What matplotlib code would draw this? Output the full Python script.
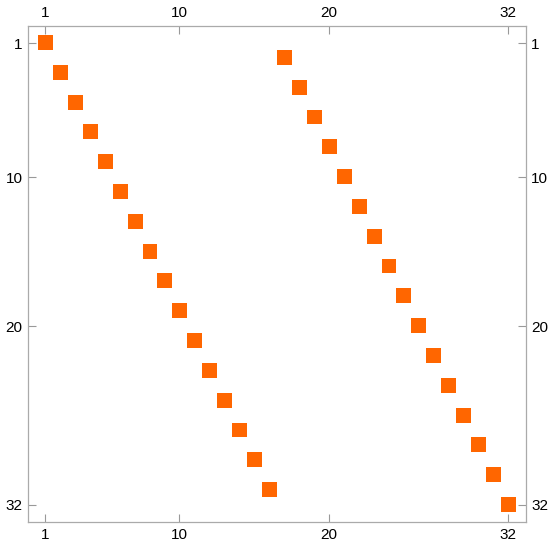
import numpy as np
import matplotlib.pyplot as plt

# nonzero entries of the 32x32 matrix: (column, row), 1-based
cols = [1, 2, 3, 4, 5, 6, 7, 8, 9, 10, 11, 12, 13, 14, 15, 16,
        17, 18, 19, 20, 21, 22, 23, 24, 25, 26, 27, 28, 29, 30, 31, 32]
rows = [1, 3, 5, 7, 9, 11, 13, 15, 17, 19, 21, 23, 25, 27, 29, 31,
        2, 4, 6, 8, 10, 12, 14, 16, 18, 20, 22, 24, 26, 28, 30, 32]
n = 32
tick_vals = [1, 10, 20, 32]

mat = np.zeros((n, n))
for c, r in zip(cols, rows):
    mat[r - 1, c - 1] = 1
mat = np.ma.masked_equal(mat, 0)

plt.rcParams['font.family'] = ['Liberation Sans', 'DejaVu Sans']
fig = plt.figure(figsize=(5.5, 5.48), dpi=100)
ax = fig.add_axes([28 / 550, 26 / 548, 497.5 / 550, 496 / 548])

cmap = plt.matplotlib.colors.ListedColormap(['#ff6600'])
ax.imshow(mat, cmap=cmap, extent=(0.5, n + 0.5, n + 0.5, 0.5),
          interpolation='nearest', aspect='auto')
ax.set_xlim(-0.15, 33.2)
ax.set_ylim(33.15, -0.15)

ax.set_xticks(tick_vals)
ax.set_yticks(tick_vals)
ax.tick_params(direction='in', length=6, width=0.8, color='#999999',
               labelsize=11, pad=4,
               top=True, right=True, labeltop=True, labelright=True)
for s in ax.spines.values():
    s.set_color('#aaaaaa')
    s.set_linewidth(0.9)

fig.savefig('out.png')
